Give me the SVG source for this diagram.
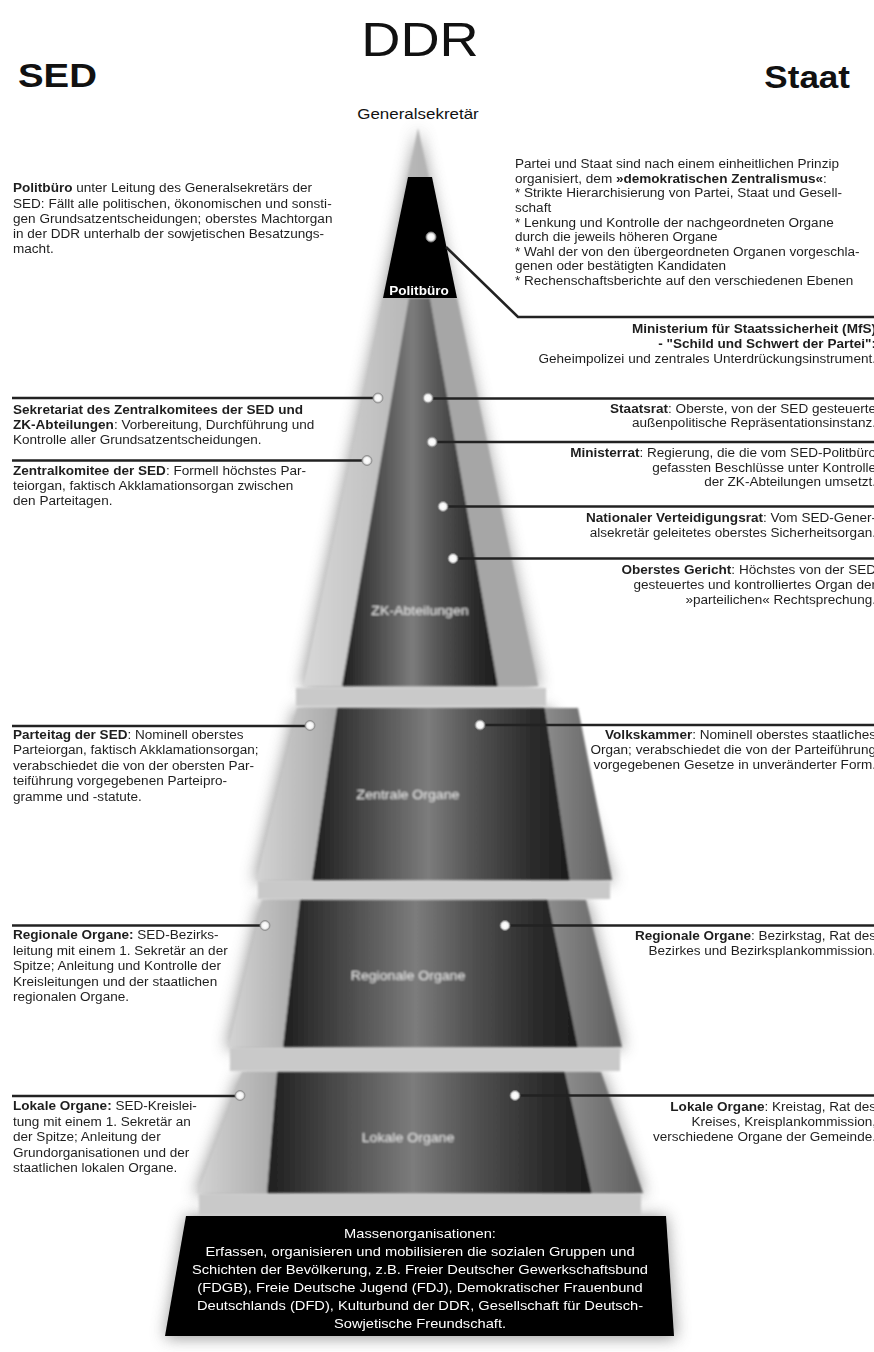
<svg xmlns="http://www.w3.org/2000/svg" width="874" height="1352" viewBox="0 0 874 1352">
<style>
.t{font-family:"Liberation Sans",Arial,sans-serif;font-size:12px;fill:#1e1e1e}
.b{font-weight:bold}
.r{text-anchor:end}
.c{text-anchor:middle}
.w{fill:#ffffff}
.lbl{font-family:"Liberation Sans",Arial,sans-serif;font-size:12.5px;fill:#e6e6e6;text-anchor:middle}
.ln{stroke:#222;stroke-width:2.5;fill:none}
.sh{fill:#777;filter:url(#blur)}
.m{font-size:13px}
</style>
<defs>
<filter id="blur" x="-30%" y="-30%" width="160%" height="160%"><feGaussianBlur stdDeviation="8"/></filter>
<filter id="soft" x="-5%" y="-5%" width="110%" height="110%"><feGaussianBlur stdDeviation="0.8"/></filter>
<linearGradient id="gFront" x1="0" y1="0" x2="1" y2="0">
<stop offset="0" stop-color="#1e1e1e"/><stop offset="0.3" stop-color="#5c5c5c"/><stop offset="0.45" stop-color="#7c7c7c"/><stop offset="0.62" stop-color="#555"/><stop offset="0.85" stop-color="#2c2c2c"/><stop offset="1" stop-color="#1c1c1c"/>
</linearGradient>
<linearGradient id="gLeft" x1="0" y1="0" x2="1" y2="0">
<stop offset="0" stop-color="#d4d4d4"/><stop offset="1" stop-color="#a9a9a9"/>
</linearGradient>
<linearGradient id="gRight" x1="0" y1="0" x2="1" y2="0">
<stop offset="0" stop-color="#8c8c8c"/><stop offset="1" stop-color="#5c5c5c"/>
</linearGradient>
<linearGradient id="gCone" x1="0" y1="0" x2="1" y2="0">
<stop offset="0" stop-color="#d8d8d8"/><stop offset="0.5" stop-color="#b4b4b4"/><stop offset="1" stop-color="#a4a4a4"/>
</linearGradient>
<radialGradient id="gDot">
<stop offset="0" stop-color="#ffffff"/><stop offset="0.6" stop-color="#f4f4f4"/><stop offset="1" stop-color="#9a9a9a"/>
</radialGradient>
</defs>
<rect width="874" height="1352" fill="#ffffff"/>

<!-- titles -->
<g id="titles">
<g transform="translate(420,56) scale(1.13,1)"><text class="t c" x="0" y="0" style="font-size:48px;fill:#111">DDR</text></g>
<g transform="translate(18,87) scale(1.13,1)"><text class="t b" x="0" y="0" style="font-size:34px;fill:#111">SED</text></g>
<g transform="translate(850,88) scale(1.13,1)"><text class="t b r" x="0" y="0" style="font-size:31px;fill:#111">Staat</text></g>
<g transform="translate(418,119) scale(1.13,1)"><text class="t c" x="0" y="0" style="font-size:15px;fill:#111">Generalsekretär</text></g>
</g>

<!-- shadows -->
<g id="shadows" opacity="0.75">
<polygon class="sh" points="418,128 540,688 301,688"/>
<polygon class="sh" points="295,708 549,708 614,882 254,882"/>
<polygon class="sh" points="260,900 587,900 624,1049 226,1049"/>
<polygon class="sh" points="240,1072 602,1072 645,1195 195,1195"/>
<polygon class="sh" points="186,1216 666,1216 676,1338 165,1338"/>
</g>

<!-- gap bands -->
<g id="bands" filter="url(#soft)">
<rect x="296" y="688" width="250" height="18" fill="#c9c9c9"/>
<rect x="258" y="881" width="352" height="18" fill="#c9c9c9"/>
<rect x="230" y="1048" width="390" height="23" fill="#c9c9c9"/>
<rect x="199" y="1194" width="442" height="21" fill="#c9c9c9"/>
</g>

<!-- ZK / top cone -->
<g id="zk-abteilungen" filter="url(#soft)">
<polygon points="418,128 538,686 303,686" fill="url(#gCone)"/>
<polygon points="409,298 430,298 498,686 342,686" fill="url(#gFront)"/>
<polygon points="430,298 457,298 538,686 498,686" fill="#a6a6a6"/>
<g transform="translate(420,615) scale(1.13,1)"><text class="lbl" x="0" y="0">ZK-Abteilungen</text></g>
</g>

<g id="politbuero">
<polygon points="408,177 432,177 457,298 383,298" fill="#000"/>
<g transform="translate(419,295) scale(1.13,1)"><text class="t b c w" x="0" y="0">Politbüro</text></g>
</g>

<g id="zentrale-organe" filter="url(#soft)">
<polygon points="297,708 337,708 312,880 256,880" fill="url(#gLeft)"/>
<polygon points="337,708 545,708 570,880 312,880" fill="url(#gFront)"/>
<polygon points="545,708 578,708 612,880 570,880" fill="url(#gRight)"/>
<g transform="translate(408,799) scale(1.13,1)"><text class="lbl" x="0" y="0">Zentrale Organe</text></g>
</g>

<g id="regionale-organe" filter="url(#soft)">
<polygon points="262,900 300,900 283,1047 228,1047" fill="url(#gLeft)"/>
<polygon points="300,900 548,900 578,1047 283,1047" fill="url(#gFront)"/>
<polygon points="548,900 586,900 622,1047 578,1047" fill="url(#gRight)"/>
<g transform="translate(408,980) scale(1.13,1)"><text class="lbl" x="0" y="0">Regionale Organe</text></g>
</g>

<g id="lokale-organe" filter="url(#soft)">
<polygon points="242,1072 277,1072 267,1193 197,1193" fill="url(#gLeft)"/>
<polygon points="277,1072 565,1072 592,1193 267,1193" fill="url(#gFront)"/>
<polygon points="565,1072 601,1072 643,1193 592,1193" fill="url(#gRight)"/>
<g transform="translate(408,1142) scale(1.13,1)"><text class="lbl" x="0" y="0">Lokale Organe</text></g>
</g>

<g id="massenorganisationen">
<polygon points="186,1216 666,1216 674,1336 165,1336" fill="#000"/>
<g transform="translate(420,0) scale(1.13,1)">
<text class="t c w m" x="0" y="1238">Massenorganisationen:</text>
<text class="t c w m" x="0" y="1256">Erfassen, organisieren und mobilisieren die sozialen Gruppen und</text>
<text class="t c w m" x="0" y="1274">Schichten der Bevölkerung, z.B. Freier Deutscher Gewerkschaftsbund</text>
<text class="t c w m" x="0" y="1292">(FDGB), Freie Deutsche Jugend (FDJ), Demokratischer Frauenbund</text>
<text class="t c w m" x="0" y="1310">Deutschlands (DFD), Kulturbund der DDR, Gesellschaft für Deutsch-</text>
<text class="t c w m" x="0" y="1328">Sowjetische Freundschaft.</text>
</g>
</g>

<!-- connectors -->
<g id="connectors">
<polyline class="ln" points="446,247 518,317 874,317"/>
<line class="ln" x1="12" y1="398" x2="374" y2="398"/>
<line class="ln" x1="432" y1="398.5" x2="874" y2="398.5"/>
<line class="ln" x1="12" y1="460.5" x2="363" y2="460.5"/>
<line class="ln" x1="436" y1="442" x2="874" y2="442"/>
<line class="ln" x1="447" y1="506.5" x2="874" y2="506.5"/>
<line class="ln" x1="457" y1="558.5" x2="874" y2="558.5"/>
<line class="ln" x1="12" y1="726" x2="306" y2="726"/>
<line class="ln" x1="484" y1="725" x2="874" y2="725"/>
<line class="ln" x1="12" y1="925.5" x2="261" y2="925.5"/>
<line class="ln" x1="509" y1="925.5" x2="874" y2="925.5"/>
<line class="ln" x1="12" y1="1096" x2="236" y2="1096"/>
<line class="ln" x1="519" y1="1095.5" x2="874" y2="1095.5"/>
<g fill="url(#gDot)" stroke="#8a8a8a" stroke-width="0.8">
<circle cx="431" cy="237" r="5"/>
<circle cx="378" cy="398" r="5"/>
<circle cx="428" cy="398" r="5"/>
<circle cx="367" cy="460.5" r="5"/>
<circle cx="432" cy="442" r="5"/>
<circle cx="443" cy="506.5" r="5"/>
<circle cx="453" cy="558.5" r="5"/>
<circle cx="310" cy="725.5" r="5"/>
<circle cx="480" cy="725" r="5"/>
<circle cx="265" cy="925.5" r="5"/>
<circle cx="505" cy="925.5" r="5"/>
<circle cx="240" cy="1095.5" r="5"/>
<circle cx="515" cy="1095.5" r="5"/>
</g>
</g>

<!-- left annotations -->
<g id="note-politbuero" transform="translate(13,0) scale(1.13,1)">
<text class="t" x="0" y="192.5"><tspan class="b">Politbüro</tspan> unter Leitung des Generalsekretärs der</text>
<text class="t" x="0" y="207.7">SED: Fällt alle politischen, ökonomischen und sonsti-</text>
<text class="t" x="0" y="222.9">gen Grundsatzentscheidungen; oberstes Machtorgan</text>
<text class="t" x="0" y="238.1">in der DDR unterhalb der sowjetischen Besatzungs-</text>
<text class="t" x="0" y="253.3">macht.</text>
</g>
<g id="note-sekretariat" transform="translate(13,0) scale(1.13,1)">
<text class="t" x="0" y="414"><tspan class="b">Sekretariat des Zentralkomitees der SED und</tspan></text>
<text class="t" x="0" y="429.3"><tspan class="b">ZK-Abteilungen</tspan>: Vorbereitung, Durchführung und</text>
<text class="t" x="0" y="444.5">Kontrolle aller Grundsatzentscheidungen.</text>
</g>
<g id="note-zk" transform="translate(13,0) scale(1.13,1)">
<text class="t" x="0" y="475.5"><tspan class="b">Zentralkomitee der SED</tspan>: Formell höchstes Par-</text>
<text class="t" x="0" y="490.5">teiorgan, faktisch Akklamationsorgan zwischen</text>
<text class="t" x="0" y="505.5">den Parteitagen.</text>
</g>
<g id="note-parteitag" transform="translate(13,0) scale(1.13,1)">
<text class="t" x="0" y="739"><tspan class="b">Parteitag der SED</tspan>: Nominell oberstes</text>
<text class="t" x="0" y="754.5">Parteiorgan, faktisch Akklamationsorgan;</text>
<text class="t" x="0" y="770">verabschiedet die von der obersten Par-</text>
<text class="t" x="0" y="785.5">teiführung vorgegebenen Parteipro-</text>
<text class="t" x="0" y="801">gramme und -statute.</text>
</g>
<g id="note-regional-sed" transform="translate(13,0) scale(1.13,1)">
<text class="t" x="0" y="939.5"><tspan class="b">Regionale Organe:</tspan> SED-Bezirks-</text>
<text class="t" x="0" y="955">leitung mit einem 1. Sekretär an der</text>
<text class="t" x="0" y="970.5">Spitze; Anleitung und Kontrolle der</text>
<text class="t" x="0" y="986">Kreisleitungen und der staatlichen</text>
<text class="t" x="0" y="1001.5">regionalen Organe.</text>
</g>
<g id="note-lokal-sed" transform="translate(13,0) scale(1.13,1)">
<text class="t" x="0" y="1110.5"><tspan class="b">Lokale Organe:</tspan> SED-Kreislei-</text>
<text class="t" x="0" y="1126">tung mit einem 1. Sekretär an</text>
<text class="t" x="0" y="1141.5">der Spitze; Anleitung der</text>
<text class="t" x="0" y="1157">Grundorganisationen und der</text>
<text class="t" x="0" y="1172.5">staatlichen lokalen Organe.</text>
</g>

<!-- right annotations -->
<g id="note-prinzip" transform="translate(515,0) scale(1.13,1)">
<text class="t" x="0" y="168.2">Partei und Staat sind nach einem einheitlichen Prinzip</text>
<text class="t" x="0" y="182.8">organisiert, dem <tspan class="b">»demokratischen Zentralismus«</tspan>:</text>
<text class="t" x="0" y="197.4">* Strikte Hierarchisierung von Partei, Staat und Gesell-</text>
<text class="t" x="0" y="212">schaft</text>
<text class="t" x="0" y="226.6">* Lenkung und Kontrolle der nachgeordneten Organe</text>
<text class="t" x="0" y="241.2">durch die jeweils höheren Organe</text>
<text class="t" x="0" y="255.8">* Wahl der von den übergeordneten Organen vorgeschla-</text>
<text class="t" x="0" y="270.4">genen oder bestätigten Kandidaten</text>
<text class="t" x="0" y="285">* Rechenschaftsberichte auf den verschiedenen Ebenen</text>
</g>
<g id="note-mfs" transform="translate(876,0) scale(1.13,1)">
<text class="t b r" x="0" y="333">Ministerium für Staatssicherheit (MfS)</text>
<text class="t b r" x="0" y="348">- "Schild und Schwert der Partei":</text>
<text class="t r" x="0" y="363">Geheimpolizei und zentrales Unterdrückungsinstrument.</text>
</g>
<g id="note-staatsrat" transform="translate(876,0) scale(1.13,1)">
<text class="t r" x="0" y="412.7"><tspan class="b">Staatsrat</tspan>: Oberste, von der SED gesteuerte</text>
<text class="t r" x="0" y="427.5">außenpolitische Repräsentationsinstanz.</text>
</g>
<g id="note-ministerrat" transform="translate(876,0) scale(1.13,1)">
<text class="t r" x="0" y="456.7"><tspan class="b">Ministerrat</tspan>: Regierung, die die vom SED-Politbüro</text>
<text class="t r" x="0" y="471.7">gefassten Beschlüsse unter Kontrolle</text>
<text class="t r" x="0" y="486.5">der ZK-Abteilungen umsetzt.</text>
</g>
<g id="note-nvr" transform="translate(876,0) scale(1.13,1)">
<text class="t r" x="0" y="521.7"><tspan class="b">Nationaler Verteidigungsrat</tspan>: Vom SED-Gener-</text>
<text class="t r" x="0" y="536.7">alsekretär geleitetes oberstes Sicherheitsorgan.</text>
</g>
<g id="note-gericht" transform="translate(876,0) scale(1.13,1)">
<text class="t r" x="0" y="574.3"><tspan class="b">Oberstes Gericht</tspan>: Höchstes von der SED</text>
<text class="t r" x="0" y="589.3">gesteuertes und kontrolliertes Organ der</text>
<text class="t r" x="0" y="604">»parteilichen« Rechtsprechung.</text>
</g>
<g id="note-volkskammer" transform="translate(876,0) scale(1.13,1)">
<text class="t r" x="0" y="739.3"><tspan class="b">Volkskammer</tspan>: Nominell oberstes staatliches</text>
<text class="t r" x="0" y="754.3">Organ; verabschiedet die von der Parteiführung</text>
<text class="t r" x="0" y="769.3">vorgegebenen Gesetze in unveränderter Form.</text>
</g>
<g id="note-regional-staat" transform="translate(876,0) scale(1.13,1)">
<text class="t r" x="0" y="940"><tspan class="b">Regionale Organe</tspan>: Bezirkstag, Rat des</text>
<text class="t r" x="0" y="955">Bezirkes und Bezirksplankommission.</text>
</g>
<g id="note-lokal-staat" transform="translate(876,0) scale(1.13,1)">
<text class="t r" x="0" y="1111"><tspan class="b">Lokale Organe</tspan>: Kreistag, Rat des</text>
<text class="t r" x="0" y="1126">Kreises, Kreisplankommission,</text>
<text class="t r" x="0" y="1141">verschiedene Organe der Gemeinde.</text>
</g>
</svg>
